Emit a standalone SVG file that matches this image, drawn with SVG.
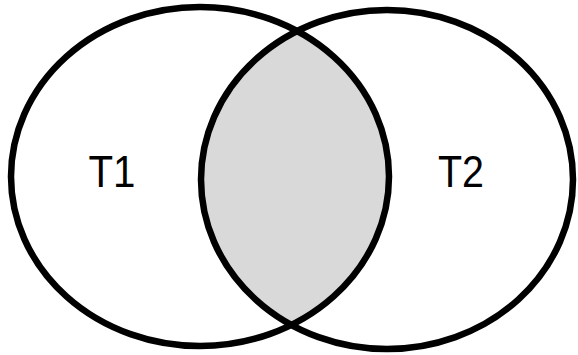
<svg xmlns="http://www.w3.org/2000/svg" width="578" height="355" viewBox="0 0 578 355">
<style>
.ring{fill:none;stroke:#000;stroke-width:6.5}
.lbl{font-family:"Liberation Sans",Arial,sans-serif;font-size:45px;fill:#000;text-anchor:middle}
</style>
<defs>
<clipPath id="clipR"><ellipse cx="387" cy="179.5" rx="186" ry="169.5"/></clipPath>
</defs>
<rect width="578" height="355" fill="#fff"/>
<g id="intersection">
<ellipse cx="200" cy="176.5" rx="189" ry="169.5" fill="#d9d9d9" clip-path="url(#clipR)"/>
</g>
<g id="T1">
<ellipse class="ring" cx="200" cy="176.5" rx="189" ry="169.5"/>
<text class="lbl" x="112" y="187" textLength="47" lengthAdjust="spacingAndGlyphs">T1</text>
</g>
<g id="T2">
<ellipse class="ring" cx="387" cy="179.5" rx="186" ry="169.5"/>
<text class="lbl" x="461" y="187" textLength="46" lengthAdjust="spacingAndGlyphs">T2</text>
</g>
<g id="connectors"></g>
</svg>
